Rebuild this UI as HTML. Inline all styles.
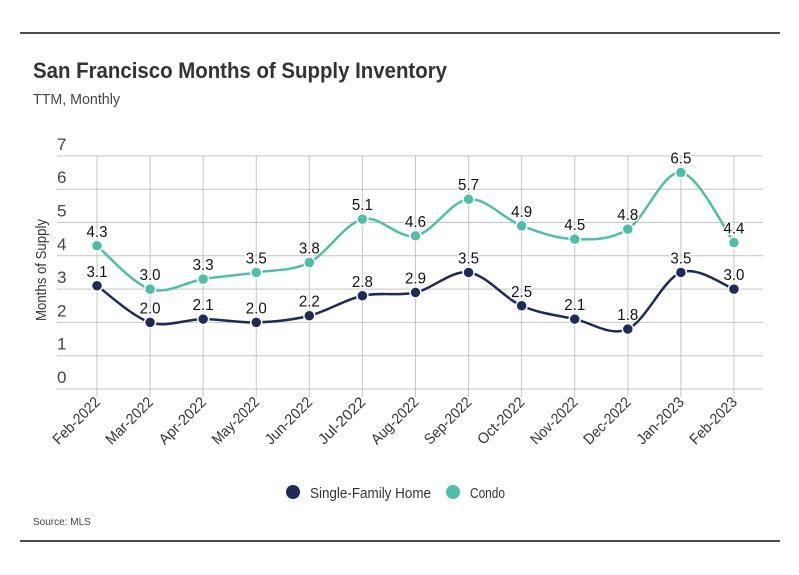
<!DOCTYPE html>
<html><head><meta charset="utf-8"><style>
html,body{margin:0;padding:0;background:#fff}
svg{display:block;font-family:"Liberation Sans",sans-serif}
</style></head><body>
<svg id="chart" width="799" height="575" viewBox="0 0 799 575">
<line x1="20" y1="33" x2="780" y2="33" stroke="#111" stroke-width="1.5"/>
<text x="33" y="78" font-size="22" font-weight="bold" fill="#333" textLength="414" lengthAdjust="spacingAndGlyphs">San Francisco Months of Supply Inventory</text>
<text x="33" y="104" font-size="15" fill="#444" textLength="87" lengthAdjust="spacingAndGlyphs">TTM, Monthly</text>
<g id="grid"></g>
<text transform="translate(46,270) rotate(-90)" text-anchor="middle" font-size="15" fill="#333" textLength="102" lengthAdjust="spacingAndGlyphs">Months of Supply</text>
<g id="series"></g>
<g>
<circle cx="293" cy="492" r="7" fill="#1f2a5a"/>
<text x="310" y="498" font-size="15" fill="#333" textLength="121" lengthAdjust="spacingAndGlyphs">Single-Family Home</text>
<circle cx="453" cy="492" r="7" fill="#4dbfa8"/>
<text x="470" y="498" font-size="15" fill="#333" textLength="35" lengthAdjust="spacingAndGlyphs">Condo</text>
</g>
<text x="33" y="525" font-size="10" fill="#444">Source:  MLS</text>
<line x1="20" y1="541" x2="780" y2="541" stroke="#111" stroke-width="1.5"/>
</svg>
<script>
const categories=["Feb-2022","Mar-2022","Apr-2022","May-2022","Jun-2022","Jul-2022","Aug-2022","Sep-2022","Oct-2022","Nov-2022","Dec-2022","Jan-2023","Feb-2023"];
const sfhValues=[3.1,2.0,2.1,2.0,2.2,2.8,2.9,3.5,2.5,2.1,1.8,3.5,3.0];
const condoValues=[4.3,3.0,3.3,3.5,3.8,5.1,4.6,5.7,4.9,4.5,4.8,6.5,4.4];
const yTicks=[0,1,2,3,4,5,6,7];
const NS="http://www.w3.org/2000/svg";
const X0=97,XS=53.08,Y0=389,YU=33.3,L=57,R=763;
const xs=i=>X0+i*XS, ys=v=>Y0-v*YU;
function mk(t,a,p){const e=document.createElementNS(NS,t);for(const k in a)e.setAttribute(k,a[k]);p.appendChild(e);return e;}
const grid=document.getElementById('grid');
yTicks.forEach(v=>{
 const l=mk('line',{x1:L,x2:R,y1:ys(v),y2:ys(v),stroke:'#c4c4c4','stroke-width':1},grid);
 
 
 const t=mk('text',{x:L,y:ys(v)-6,'font-size':17,fill:'#444'},grid);t.textContent=v;
 
 
});
categories.forEach((c,i)=>{
 const l=mk('line',{x1:xs(i),x2:xs(i),y1:ys(7),y2:Y0+8,stroke:'#c4c4c4','stroke-width':1},grid);
 
 
 const t=mk('text',{transform:`translate(${xs(i)+4},${Y0+14}) rotate(-45)`,'text-anchor':'end','font-size':15,fill:'#333',textLength:60,lengthAdjust:'spacingAndGlyphs'},grid);t.textContent=c;
 
 
});
function path(vals){
 const p=vals.map((v,i)=>[xs(i),ys(v)]);let d=`M${p[0][0]},${p[0][1]}`;
 for(let i=0;i<p.length-1;i++){const a=p[i-1]||p[i],b=p[i],c=p[i+1],e=p[i+2]||c;
  d+=` C${b[0]+(c[0]-a[0])/6},${b[1]+(c[1]-a[1])/6} ${c[0]-(e[0]-b[0])/6},${c[1]-(e[1]-b[1])/6} ${c[0]},${c[1]}`;}
 return d;}
const sg=document.getElementById('series');
[[condoValues,'#4dbfa8','condo'],[sfhValues,'#1f2a5a','sfh']].forEach(([vals,col,nm])=>{
 const p=mk('path',{d:path(vals),fill:'none',stroke:col,'stroke-width':2.5},sg);
 
 
 vals.forEach((v,i)=>{
  const c=mk('circle',{cx:xs(i),cy:ys(v),r:5.5,fill:col,stroke:'#fff','stroke-width':1.5},sg);
  
  
  const t=mk('text',{x:xs(i),y:ys(v)-9,'text-anchor':'middle','font-size':16,fill:'#111',stroke:'#fff','stroke-width':3,'paint-order':'stroke',textLength:21,lengthAdjust:'spacingAndGlyphs'},sg);
  t.textContent=v.toFixed(1);
  
  
 });
});
</script>
</body></html>
